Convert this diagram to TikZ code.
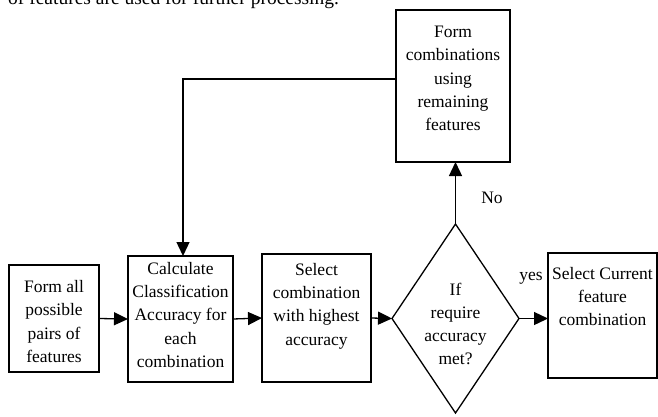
\documentclass[tikz,border=0pt]{standalone}
\usepackage{fontspec}
\setmainfont{Liberation Serif}
\usetikzlibrary{arrows.meta,shapes.geometric}
\begin{document}
\begin{tikzpicture}[x=1pt,y=-1pt,
  box/.style={draw,line width=1.3pt,inner sep=0pt,outer sep=0pt},
  diam/.style={draw,line width=1.3pt,diamond,inner sep=0pt,outer sep=0pt},
  txt/.style={align=center,inner sep=0pt,font=\fontsize{17.5}{23.3}\selectfont},
  lbl/.style={inner sep=0pt,font=\fontsize{17.5}{21}\selectfont},
  arr/.style={line width=1.3pt,-{Triangle[length=14pt,width=13pt]}},
  ln/.style={line width=1.3pt}]
\clip (0,0) rectangle (658,416);
\node[anchor=base west,inner sep=0pt,font=\fontsize{19.5}{23}\selectfont] (top) at (8,4) {of features are used for further processing.};
% boxes
\node[box,minimum width=90pt,minimum height=107pt] (b1) at (54,318.5) {};
\node[txt] (t1) at (54,321.5) {Form all\\possible\\pairs of\\features};
\node[box,minimum width=105pt,minimum height=126pt] (b2) at (180.5,319) {};
\node[txt] (t2) at (180.5,315) {Calculate\\Classification\\Accuracy for\\each\\combination};
\node[box,minimum width=109pt,minimum height=128pt] (b3) at (316.5,318) {};
\node[txt] (t3) at (316.5,306) {Select\\combination\\with highest\\accuracy};
\node[diam,minimum width=127pt,minimum height=189pt] (d) at (455.5,318.5) {};
\node[txt] (t4) at (455.5,324) {If\\require\\accuracy\\met?};
\node[box,minimum width=109pt,minimum height=125pt] (b5) at (602.5,315.5) {};
\node[txt] (t5) at (602.5,296.5) {Select Current\\feature\\combination};
\node[box,minimum width=114pt,minimum height=152pt] (b4) at (453,86) {};
\node[txt] (t6) at (453,78.5) {Form\\combinations\\using\\remaining\\features};
% labels
\node[lbl] (yes) at (531,278) {yes};
\node[lbl] (no) at (492,198) {No};
% connectors
\draw[arr] (b1.east) -- (b2.west);
\draw[arr] (b2.east) -- (b3.west);
\draw[arr] (b3.east) -- (d.west);
\draw[arr] (d.east) -- (d.east -| b5.west);
\draw[arr] (d.north) -- (d.north |- b4.south);
\draw[arr] ([yshift=7pt]b4.west) -| ([xshift=2.5pt]b2.north);
\end{tikzpicture}
\end{document}
